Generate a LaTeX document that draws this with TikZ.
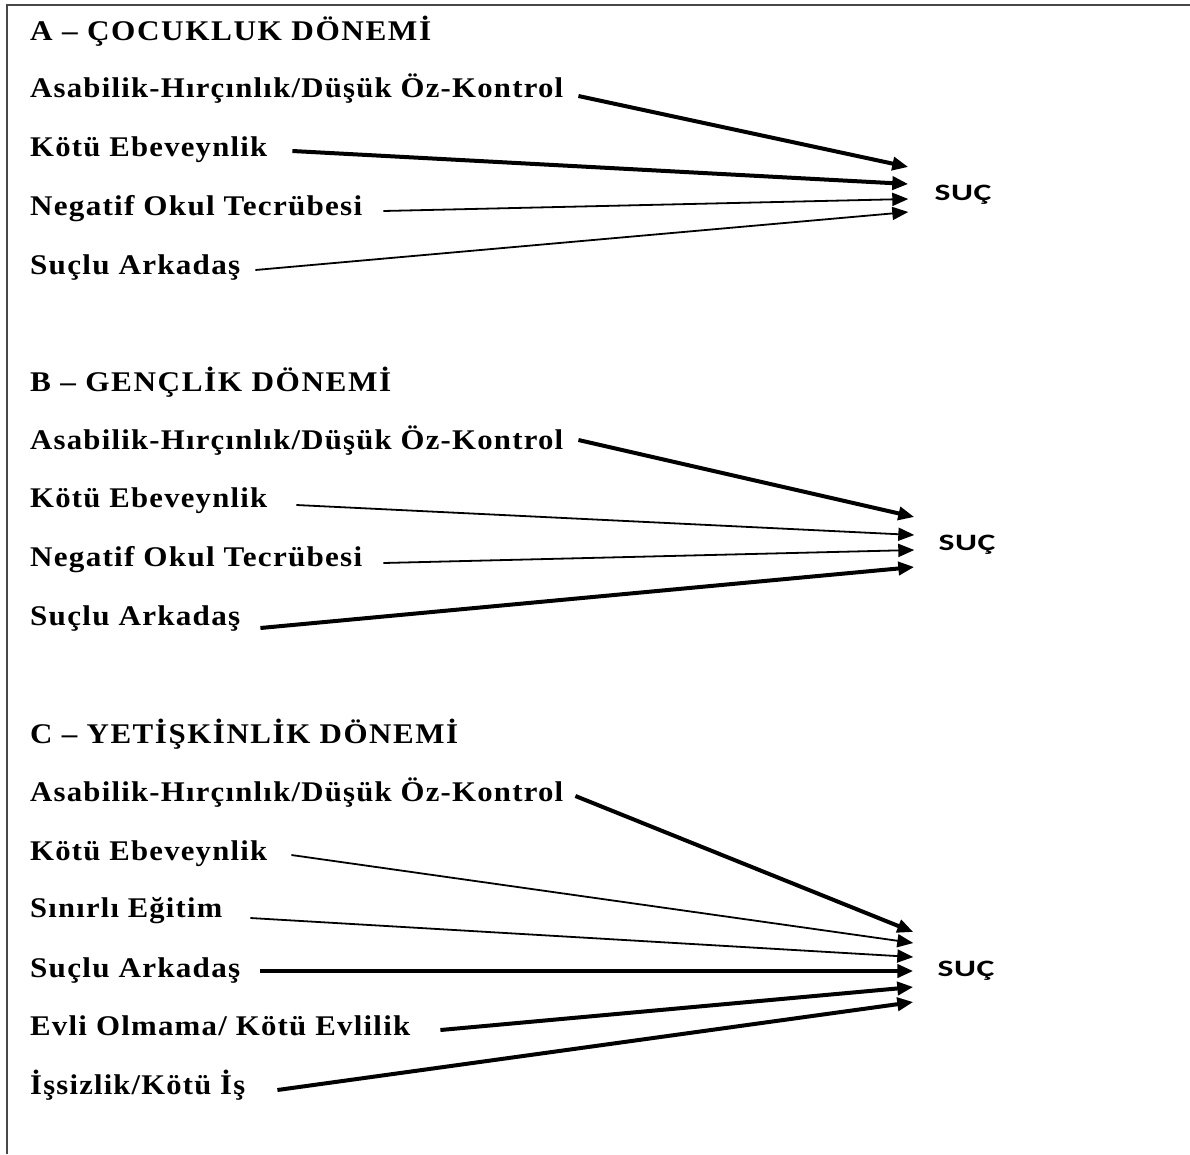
\documentclass[tikz,border=0pt]{standalone}
\usepackage{fontspec}
\setmainfont{Liberation Serif}
\newfontfamily\labfont{Liberation Serif}[LetterSpace=4]
\newfontfamily\ttlfont{Liberation Serif}[LetterSpace=5]
\newfontfamily\sucfont{Carlito}[LetterSpace=2]
\usetikzlibrary{arrows.meta}
\newcommand\fitw[2]{\resizebox{#1}{\height}{#2}}
\begin{document}
\begin{tikzpicture}[x=1pt,y=-1pt,
  lab/.style={anchor=base west, inner sep=0pt, font=\labfont\bfseries\fontsize{28.5}{32}\selectfont},
  ttl/.style={anchor=base west, inner sep=0pt, font=\ttlfont\bfseries\fontsize{28.5}{32}\selectfont},
  suc/.style={anchor=center, inner sep=0pt, font=\sucfont\bfseries\fontsize{23.5}{27}\selectfont},
  heavy/.style={line width=4pt, -{Triangle[length=16pt,width=13pt]}},
  light/.style={line width=1.8pt, -{Triangle[length=16pt,width=13pt]}},
  frame/.style={line width=2pt, draw=black!72}]
\useasboundingbox (0,0) rectangle (1190,1154);
\draw[frame] (7,1154) -- (7,5) -- (1190,5);

% ---------- A ----------
\node[ttl] (tA) at (30,40) {\fitw{401pt}{A – ÇOCUKLUK DÖNEMİ}};
\node[lab] (a1) at (30,97) {\fitw{533pt}{Asabilik-Hırçınlık/Düşük Öz-Kontrol}};
\node[lab] (a2) at (30,156) {\fitw{237pt}{Kötü Ebeveynlik}};
\node[lab] (a3) at (30,215) {\fitw{332pt}{Negatif Okul Tecrübesi}};
\node[lab] (a4) at (30,274) {\fitw{210pt}{Suçlu Arkadaş}};
\node[suc] (sA) at (963,195) {\fitw{57pt}{SUÇ}};
\draw[heavy] ([shift={(15,-1)}]a1.base east) -- ([shift={(-26,-28)}]sA.west);
\draw[heavy] ([shift={(25,-5)}]a2.base east) -- ([shift={(-26,-11)}]sA.west);
\draw[light] ([shift={(21,-4)}]a3.base east) -- ([shift={(-26,4)}]sA.west);
\draw[light] ([shift={(15,-4)}]a4.base east) -- ([shift={(-26,17)}]sA.west);

% ---------- B ----------
\node[ttl] (tB) at (30,391) {\fitw{361pt}{B – GENÇLİK DÖNEMİ}};
\node[lab] (b1) at (30,449) {\fitw{533pt}{Asabilik-Hırçınlık/Düşük Öz-Kontrol}};
\node[lab] (b2) at (30,507) {\fitw{237pt}{Kötü Ebeveynlik}};
\node[lab] (b3) at (30,566) {\fitw{332pt}{Negatif Okul Tecrübesi}};
\node[lab] (b4) at (30,625) {\fitw{210pt}{Suçlu Arkadaş}};
\node[suc] (sB) at (967,545) {\fitw{57pt}{SUÇ}};
\draw[heavy] ([shift={(15,-9)}]b1.base east) -- ([shift={(-24,-28)}]sB.west);
\draw[light] ([shift={(29,-2)}]b2.base east) -- ([shift={(-24,-10)}]sB.west);
\draw[light] ([shift={(21,-3)}]b3.base east) -- ([shift={(-24,5)}]sB.west);
\draw[heavy] ([shift={(20,3)}]b4.base east) -- ([shift={(-24,22)}]sB.west);

% ---------- C ----------
\node[ttl] (tC) at (30,743) {\fitw{428pt}{C – YETİŞKİNLİK DÖNEMİ}};
\node[lab] (c1) at (30,801) {\fitw{533pt}{Asabilik-Hırçınlık/Düşük Öz-Kontrol}};
\node[lab] (c2) at (30,860) {\fitw{237pt}{Kötü Ebeveynlik}};
\node[lab] (c3) at (30,917) {\fitw{192pt}{Sınırlı Eğitim}};
\node[lab] (c4) at (30,977) {\fitw{210pt}{Suçlu Arkadaş}};
\node[lab] (c5) at (30,1035) {\fitw{380pt}{Evli Olmama/ Kötü Evlilik}};
\node[lab] (c6) at (30,1094) {\fitw{215pt}{İşsizlik/Kötü İş}};
\node[suc] (sC) at (966,971) {\fitw{57pt}{SUÇ}};
\draw[heavy] ([shift={(12,-5)}]c1.base east) -- ([shift={(-24,-39)}]sC.west);
\draw[light] ([shift={(24,-5)}]c2.base east) -- ([shift={(-24,-28)}]sC.west);
\draw[light] ([shift={(28,1)}]c3.base east) -- ([shift={(-24,-14)}]sC.west);
\draw[heavy] ([shift={(20,-6)}]c4.base east) -- ([shift={(-24,0)}]sC.west);
\draw[heavy] ([shift={(30,-5)}]c5.base east) -- ([shift={(-24,16)}]sC.west);
\draw[heavy] ([shift={(32,-4)}]c6.base east) -- ([shift={(-24,31)}]sC.west);
\end{tikzpicture}
\end{document}
